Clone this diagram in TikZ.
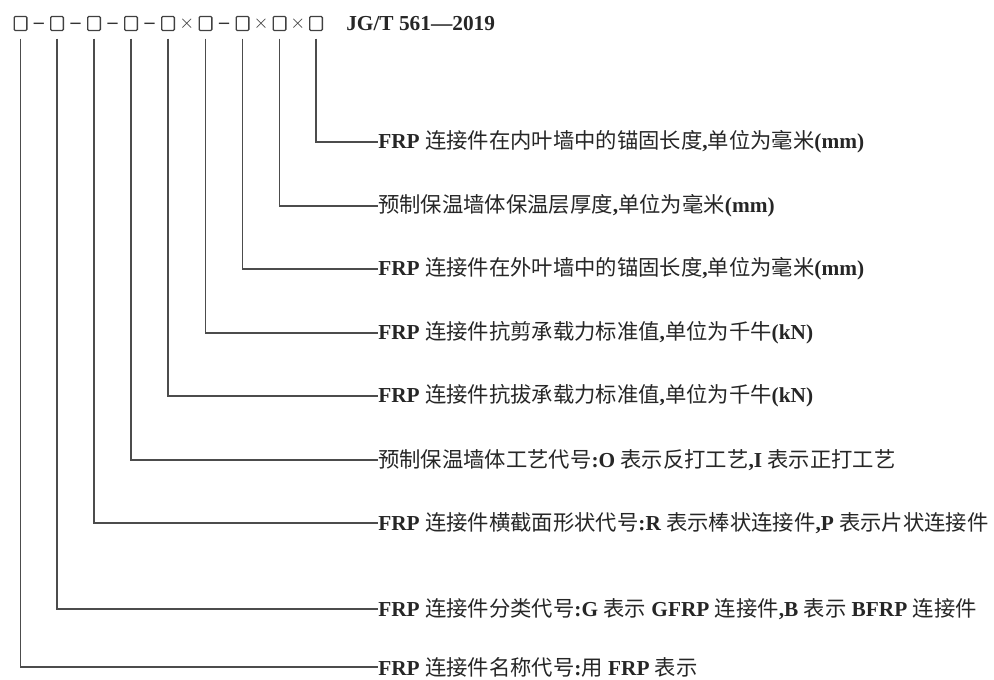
\documentclass[tikz,border=0pt]{standalone}
\usepackage{fontspec}
\setmainfont{Liberation Serif}
\newfontfamily\cjk{Noto Sans CJK SC}
\newcommand{\zh}[1]{{\cjk\mdseries\fontsize{16}{18}\selectfont #1}}
\tikzset{
  codebox/.style={draw=black!75,line width=1pt,rounded corners=0.8pt,
    minimum width=9.5pt,minimum height=10.5pt,inner sep=0pt},
  sep/.style={inner sep=0pt,text=black!80,font=\bfseries\fontsize{15}{16}\selectfont},
  label/.style={anchor=west,inner sep=0pt,text=black!85,
    font=\bfseries\fontsize{16}{18}\selectfont},
  lead/.style={draw=black!70,line width=1.1pt},
}
\begin{document}
\begin{tikzpicture}[x=0.75pt,y=-0.75pt]
      \useasboundingbox (0,0) rectangle (994,679);
      % code boxes
      \draw
        (20.5,23.5) node[codebox] (b1){}
        (57,23.5) node[codebox] (b2){}
        (94,23.5) node[codebox] (b3){}
        (131,23.5) node[codebox] (b4){}
        (168,23.5) node[codebox] (b5){}
        (205.5,23.5) node[codebox] (b6){}
        (242.5,23.5) node[codebox] (b7){}
        (279.5,23.5) node[codebox] (b8){}
        (316,23.5) node[codebox] (b9){};
      \path
        (b1) -- node[sep,yshift=-1.5pt] (s1){--} (b2)
        (b2) -- node[sep,yshift=-1.5pt] (s2){--} (b3)
        (b3) -- node[sep,yshift=-1.5pt] (s3){--} (b4)
        (b4) -- node[sep,yshift=-1.5pt] (s4){--} (b5)
        (b5) -- node[sep] (s5){$\times$} (b6)
        (b6) -- node[sep,yshift=-1.5pt] (s6){--} (b7)
        (b7) -- node[sep] (s7){$\times$} (b8)
        (b8) -- node[sep] (s8){$\times$} (b9);
      \node[label] (std) at (346,24) {JG/T 561---2019};
      % explanations
      \draw
        (378,142) node[label] (l9){FRP \zh{连接件在内叶墙中的锚固长度},\zh{单位为毫米}(mm)}
        (378,206) node[label] (l8){\zh{预制保温墙体保温层厚度},\zh{单位为毫米}(mm)}
        (378,269) node[label] (l7){FRP \zh{连接件在外叶墙中的锚固长度},\zh{单位为毫米}(mm)}
        (378,333) node[label] (l6){FRP \zh{连接件抗剪承载力标准值},\zh{单位为千牛}(kN)}
        (378,396) node[label] (l5){FRP \zh{连接件抗拔承载力标准值},\zh{单位为千牛}(kN)}
        (378,460) node[label] (l4){\zh{预制保温墙体工艺代号}:O \zh{表示反打工艺},I \zh{表示正打工艺}}
        (378,523) node[label] (l3){FRP \zh{连接件横截面形状代号}:R \zh{表示棒状连接件},P \zh{表示片状连接件}}
        (378,609) node[label] (l2){FRP \zh{连接件分类代号}:G \zh{表示} GFRP \zh{连接件},B \zh{表示} BFRP \zh{连接件}}
        (378,667) node[label] (l1){FRP \zh{连接件名称代号}:\zh{用} FRP \zh{表示}};
      \begin{scope}[lead]
        \draw ([yshift=-5.5pt]b9.south) |- (l9.west);
        \draw ([yshift=-5.5pt]b8.south) |- (l8.west);
        \draw ([yshift=-5.5pt]b7.south) |- (l7.west);
        \draw ([yshift=-5.5pt]b6.south) |- (l6.west);
        \draw ([yshift=-5.5pt]b5.south) |- (l5.west);
        \draw ([yshift=-5.5pt]b4.south) |- (l4.west);
        \draw ([yshift=-5.5pt]b3.south) |- (l3.west);
        \draw ([yshift=-5.5pt]b2.south) |- (l2.west);
        \draw ([yshift=-5.5pt]b1.south) |- (l1.west);
      \end{scope}
    \end{tikzpicture}
\end{document}
